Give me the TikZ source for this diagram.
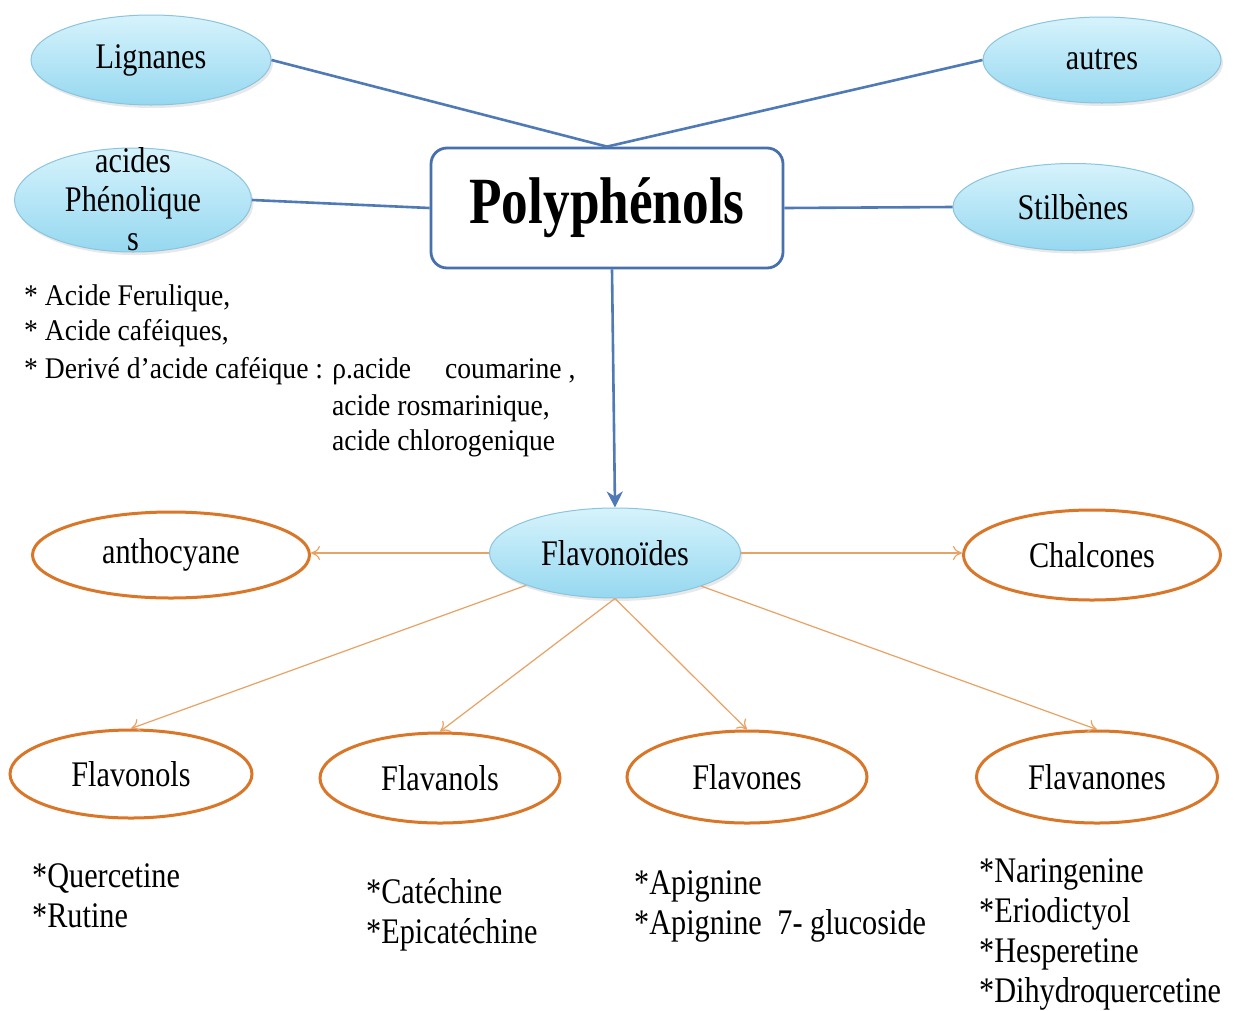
\documentclass[tikz,border=0pt]{standalone}
\usepackage{fontspec}
\setmainfont[FakeStretch=0.84]{Liberation Serif}
\newfontfamily\accfont[FakeStretch=0.92]{Liberation Serif}
\usetikzlibrary{shapes.geometric,arrows.meta,shadows}
\definecolor{bline}{RGB}{79,122,182}
\definecolor{bbox}{RGB}{72,112,172}
\definecolor{eltop}{RGB}{214,243,252}
\definecolor{elbot}{RGB}{150,216,240}
\definecolor{eldraw}{RGB}{140,196,222}
\definecolor{orng}{RGB}{218,118,40}
\definecolor{orarrow}{RGB}{232,162,100}
\tikzset{
  txt/.style={font=\fontsize{36}{39}\selectfont},
  small/.style={font=\accfont\fontsize{30}{34}\selectfont, anchor=base west, inner sep=0},
  lst/.style={font=\fontsize{36}{40}\selectfont, anchor=base west, inner sep=0},
  blueell/.style={ellipse, draw=eldraw, line width=1pt, top color=eltop, bottom color=elbot,
     inner sep=0, txt, drop shadow={shadow xshift=2pt, shadow yshift=-3pt, opacity=0.18}},
  orell/.style={ellipse, draw=orng, line width=3pt, fill=white, inner sep=0, txt},
  bconn/.style={draw=bline, line width=2.6pt},
  oconn/.style={draw=orarrow, line width=1.2pt, -{To[length=9pt,width=14pt]}},
}
\begin{document}
\begin{tikzpicture}[x=1pt,y=-1pt]
\useasboundingbox (0,0) rectangle (1242,1010);
\fill[white] (0,0) rectangle (1242,1010);

% top level
\node[blueell, minimum width=240, minimum height=90] (lig) at (151,60) {Lignanes};
\node[blueell, minimum width=238, minimum height=86] (aut) at (1102,60) {autres};
\node[blueell, minimum width=237, minimum height=104] (aph) at (133,200)
  {\raisebox{-10pt}[0pt][0pt]{\begin{tabular}{@{}c@{}}acides\\Phénolique\\s\end{tabular}}};
\node[blueell, minimum width=240, minimum height=87] (sti) at (1073,207) {Stilbènes};

\node[draw=bbox, line width=2.8pt, rounded corners=16pt, fill=white,
      minimum width=352, minimum height=120, inner sep=0] (poly) at (607,208)
      {\scalebox{0.96}[1]{\fontsize{66}{70}\selectfont\bfseries Polyphénols}};

\draw[bconn] (lig.east) -- (poly.north);
\draw[bconn] (aut.west) -- (poly.north);
\draw[bconn] (aph.east) -- (poly.west);
\draw[bconn] (sti.west) -- (poly.east);

% phenolic acids text
\node[small] (ac1) at (24,305) {* Acide Ferulique,};
\node[small] (ac2) at (24,340) {* Acide caféiques,};
\node[small] (ac3) at (24,378) {* Derivé d’acide caféique : ρ.acide\hspace{34pt}coumarine ,};
\node[small] (ac4) at (332,415) {acide rosmarinique,};
\node[small] (ac5) at (332,450) {acide chlorogenique};

% flavonoids
\node[blueell, minimum width=251, minimum height=90] (flav) at (615,553) {Flavonoïdes};
\draw[draw=bline, line width=2.6pt, -{Stealth[length=16pt,width=16pt,inset=5pt]}]
   ([xshift=5pt]poly.south) -- (flav.north);

\node[orell, minimum width=277, minimum height=86] (anth) at (171,555) {anthocyane};
\node[orell, minimum width=257, minimum height=90] (chal) at (1092,555) {Chalcones};
\node[orell, minimum width=242, minimum height=88] (fnol) at (131,774) {Flavonols};
\node[orell, minimum width=240, minimum height=90] (fanol) at (440,778) {Flavanols};
\node[orell, minimum width=240, minimum height=92] (fone) at (747,777) {Flavones};
\node[orell, minimum width=241, minimum height=92] (fanone) at (1097,777) {Flavanones};

\draw[oconn] (flav.west) -- (flav.west -| anth.east);
\draw[oconn] (flav.east) -- (flav.east -| chal.west);
\draw[oconn] (flav.200) -- (fnol.north);
\draw[oconn] (flav.south) -- (fanol.north);
\draw[oconn] (flav.south) -- (fone.north);
\draw[oconn] (flav.-21) -- (fanone.north);

% lists
\node[lst] (q1) at (32,887) {*Quercetine};
\node[lst] (q2) at (32,927) {*Rutine};
\node[lst] (c1) at (366,903) {*Catéchine};
\node[lst] (c2) at (366,943) {*Epicatéchine};
\node[lst] (a1) at (634,894) {*Apignine};
\node[lst] (a2) at (634,934) {*Apignine\hspace{8pt} 7- glucoside};
\node[lst] (n1) at (979,882) {*Naringenine};
\node[lst] (n2) at (979,922) {*Eriodictyol};
\node[lst] (n3) at (979,962) {*Hesperetine};
\node[lst] (n4) at (979,1002) {*Dihydroquercetine};
\end{tikzpicture}
\end{document}
